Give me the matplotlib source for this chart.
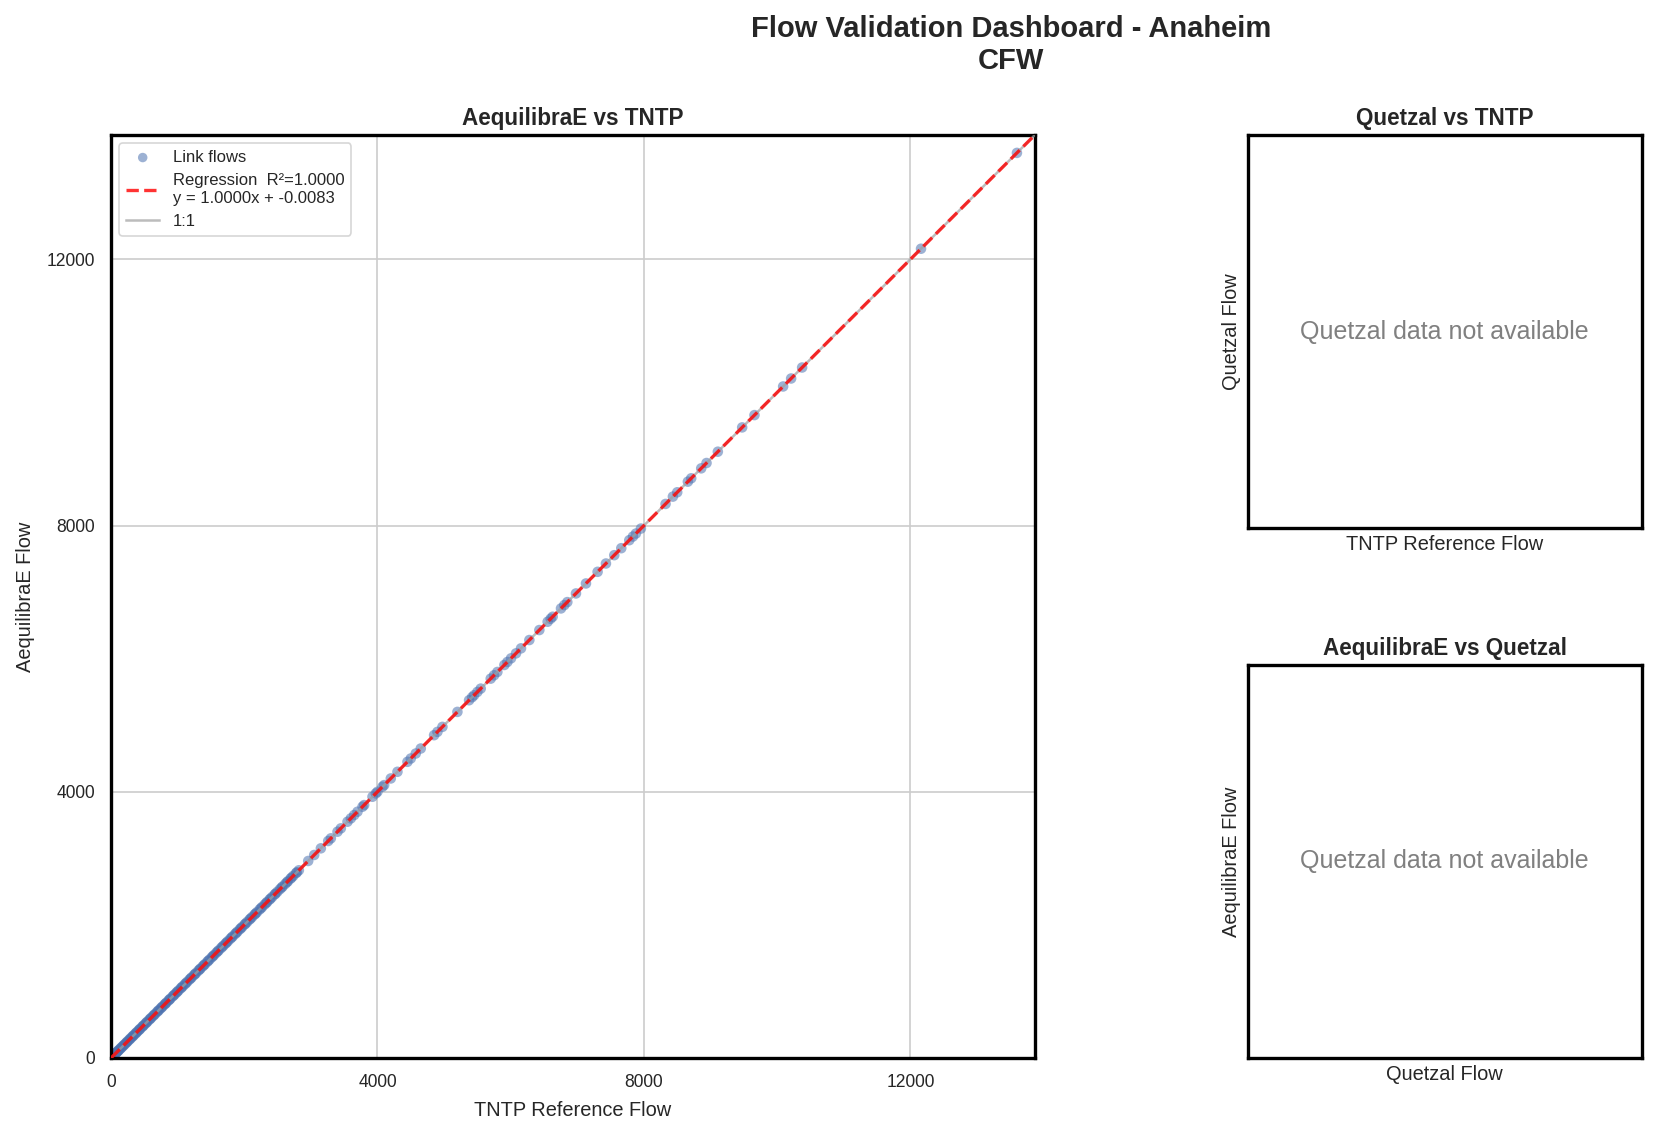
import matplotlib
matplotlib.use("Agg")
import matplotlib.pyplot as plt
import numpy as np

plt.rcParams['font.family'] = ['Liberation Sans', 'DejaVu Sans']

# ---- data ----
tntp_flow = [
    # high-flow links
    13600, 12160, 10375, 10210, 10090, 9660, 9475, 9110, 8940, 8860, 8710, 8660,
    8500, 8435, 8325,
    # mid-range links
    7955, 7880, 7835, 7780, 7660, 7555, 7430, 7305, 7130, 6980, 6850, 6805, 6755,
    6630, 6600, 6555, 6430, 6280, 6155, 6080, 6005, 5950, 5905, 5800, 5750, 5700,
    5550, 5500, 5450, 5420, 5375, 5200, 4975, 4900, 4850, 4650, 4575, 4500, 4450,
    4300, 4200, 4100, 4075, 4000, 3975, 3925, 3800, 3775, 3700, 3650, 3600, 3550,
    3450, 3400, 3300, 3260, 3150, 3050, 2960,
    # low-flow links (dense band)
    2820, 2778, 2736, 2694, 2655, 2615, 2576, 2535, 2497, 2458, 2420, 2380, 2344,
    2305, 2268, 2230, 2190, 2155, 2118, 2080, 2044, 2006, 1970, 1935, 1898, 1862,
    1826, 1790, 1755, 1720, 1688, 1650, 1615, 1580, 1546, 1512, 1480, 1445, 1410,
    1376, 1342, 1310, 1275, 1244, 1210, 1178, 1145, 1110, 1080, 1048, 1015, 983,
    955, 925, 892, 864, 833, 805, 776, 745, 718, 690, 661, 630, 602, 575, 547, 520,
    493, 468, 440, 415, 392, 365, 341, 318, 296, 270, 248, 226, 205, 180, 163, 140,
    121, 104, 88, 70, 55, 38, 25, 12, 0,
    2790, 2710, 2640, 2560, 2470, 2395, 2330, 2250, 2170, 2095, 2020, 1950, 1880,
    1810, 1735, 1670, 1600, 1530, 1460, 1395, 1330, 1260, 1195, 1125, 1060, 995,
    940, 878, 818, 760, 705, 645, 590, 533, 480, 428, 378, 330, 284, 237, 192, 150,
    110, 78, 46, 18, 5, 0, 0,
]
aeq_flow = list(tntp_flow)

reg_label = "Regression  R\u00b2=1.0000\ny = 1.0000x + -0.0083"
reg_slope = 1.0000
reg_intercept = -0.0083
axis_max = 13870
ticks = [0, 4000, 8000, 12000]

TXT = '#262626'

fig = plt.figure(figsize=(13.79, 9.467), dpi=120)

ax = fig.add_axes([0.0671, 0.0687, 0.5583, 0.8125])
ax.scatter(tntp_flow, aeq_flow, s=40, color='#4c72b0', alpha=0.55,
           edgecolors='none', label='Link flows', zorder=2)
xl = np.array([0, axis_max])
ax.plot(xl, xl, color='#a0a0a0', lw=1.5, alpha=0.7, label='1:1', zorder=3)
ax.plot(xl, reg_slope * xl + reg_intercept, color='red', ls='--', lw=2,
        alpha=0.8, label=reg_label, zorder=4)
ax.set_xlim(0, axis_max)
ax.set_ylim(0, axis_max)
ax.set_xticks(ticks)
ax.set_yticks(ticks)
ax.tick_params(labelsize=10.5, colors=TXT, length=0, pad=9.5)
ax.grid(True, color='#cccccc', lw=1)
ax.set_axisbelow(True)
for s in ax.spines.values():
    s.set_color('black')
    s.set_linewidth(2)
ax.set_xlabel('TNTP Reference Flow', fontsize=12, color=TXT, labelpad=6)
ax.set_ylabel('AequilibraE Flow', fontsize=12, color=TXT, labelpad=7)
ax.set_title('AequilibraE vs TNTP', fontsize=13.5, fontweight='bold', color=TXT)
h, l = ax.get_legend_handles_labels()
order = [0, 2, 1]
leg = ax.legend([h[i] for i in order], [l[i] for i in order], loc='upper left',
                fontsize=10, frameon=True, markerscale=0.9)
leg.get_frame().set_edgecolor('#cccccc')
for t in leg.get_texts():
    t.set_color(TXT)

def empty_panel(rect, title, xlabel, ylabel):
    a = fig.add_axes(rect)
    a.set_xticks([])
    a.set_yticks([])
    for s in a.spines.values():
        s.set_color('black')
        s.set_linewidth(2)
    a.text(0.5, 0.5, 'Quetzal data not available', transform=a.transAxes,
           ha='center', va='center', fontsize=15, color='gray')
    a.set_title(title, fontsize=13.5, fontweight='bold', color=TXT)
    a.set_xlabel(xlabel, fontsize=12, color=TXT)
    a.set_ylabel(ylabel, fontsize=12, color=TXT)
    return a

empty_panel([0.754, 0.535, 0.238, 0.3462], 'Quetzal vs TNTP',
            'TNTP Reference Flow', 'Quetzal Flow')
empty_panel([0.754, 0.0687, 0.238, 0.3462], 'AequilibraE vs Quetzal',
            'Quetzal Flow', 'AequilibraE Flow')

fig.suptitle('Flow Validation Dashboard - Anaheim\nCFW', x=0.611, y=0.987,
             fontsize=17.5, fontweight='bold', color=TXT)

fig.savefig('out.png', dpi=120, facecolor='white')
